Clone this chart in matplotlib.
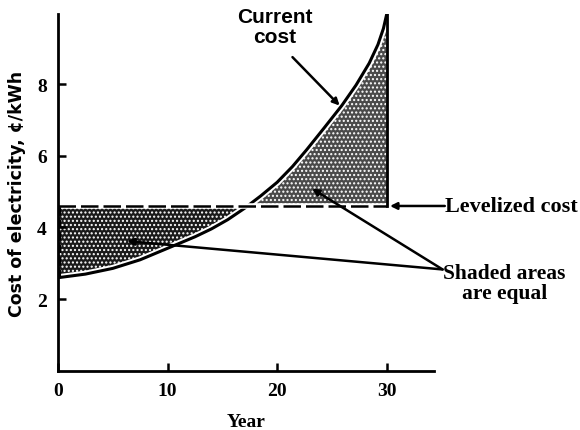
import matplotlib.pyplot as plt

# values
years = [0, 2.5, 5, 7.5, 10, 12.5, 14, 15.5, 17, 18.5, 20, 21.4, 22.7, 24.3, 25.9, 27.2, 28.4, 29.2, 29.7, 30]
current_cost = [2.6, 2.7, 2.86, 3.1, 3.42, 3.74, 3.96, 4.22, 4.53, 4.88, 5.26, 5.7, 6.17, 6.78,
                7.4, 7.97, 8.58, 9.1, 9.55, 9.95]
levelized_cost = 4.6
x_ticks = [0, 10, 20, 30]
y_ticks = [2, 4, 6, 8]

serif = "Liberation Serif"
sans = "Liberation Sans"

fig = plt.figure(figsize=(5.8, 4.31), dpi=100)
ax = fig.add_axes([0.1, 0.137, 0.648, 0.828])

lev = [levelized_cost] * len(years)

# shaded areas between the curve and the levelized line
ax.fill_between(years, current_cost, lev, where=[c <= levelized_cost + 0.05 for c in current_cost],
                interpolate=True, facecolor="#1a1a1a", edgecolor="white", hatch="....", linewidth=0)
ax.fill_between(years, current_cost, lev, where=[c >= levelized_cost - 0.05 for c in current_cost],
                interpolate=True, facecolor="#4a4a4a", edgecolor="white", hatch="....", linewidth=0)

# current cost curve with a thin white gap next to the shading
ax.plot(years, current_cost, color="white", lw=5, solid_capstyle="butt")
ax.plot(years, current_cost, color="black", lw=2.2)

# levelized cost line and closing vertical line
ax.plot([0, 30], [levelized_cost, levelized_cost], color="white", lw=4)
ax.plot([0, 30], [levelized_cost, levelized_cost], color="black", lw=1.8, dashes=(7, 2))
ax.plot([30, 30], [levelized_cost, current_cost[-1]], color="black", lw=2)
ax.plot([0.15, 0.15], [current_cost[0], levelized_cost], color="black", lw=1.5, dashes=(4, 2))

ax.set_xlim(0, 34.3)
ax.set_ylim(0, 9.95)
ax.set_xticks(x_ticks)
ax.set_yticks(y_ticks)
for s in ["top", "right"]:
    ax.spines[s].set_visible(False)
for s in ["left", "bottom"]:
    ax.spines[s].set_linewidth(2)
ax.tick_params(direction="in", length=6, width=1.8, pad=8)
for lab in ax.get_xticklabels() + ax.get_yticklabels():
    lab.set_fontfamily(serif)
    lab.set_fontweight("bold")
    lab.set_fontsize(14)

ax.set_xlabel("Year", fontfamily=serif, fontweight="bold", fontsize=14, labelpad=10)
ax.set_ylabel("Cost of electricity, \u00a2/kWh", fontfamily="DejaVu Sans", fontweight="bold",
              fontsize=12.5, labelpad=8)

# annotations
arrow = dict(arrowstyle="-|>", color="black", lw=1.8, mutation_scale=10, shrinkA=0, shrinkB=0)
ax.text(19.8, 10.15, "Current\ncost", fontfamily=sans, fontweight="bold", fontsize=15,
        ha="center", va="top", linespacing=1.05, clip_on=False)
ax.annotate("", xy=(25.7, 7.4), xytext=(21.4, 8.75), arrowprops=arrow, annotation_clip=False)

ax.annotate("", xy=(30.3, levelized_cost), xytext=(35.3, levelized_cost),
            arrowprops=arrow, annotation_clip=False)
ax.text(35.3, levelized_cost, "Levelized cost", fontfamily=serif, fontweight="bold",
        fontsize=16, ha="left", va="center", clip_on=False)

ax.annotate("", xy=(23.2, 5.08), xytext=(35.1, 2.83), arrowprops=arrow, annotation_clip=False)
ax.annotate("", xy=(6.3, 3.62), xytext=(35.1, 2.83), arrowprops=arrow, annotation_clip=False)
ax.text(40.75, 3.02, "Shaded areas\nare equal", fontfamily=serif, fontweight="bold",
        fontsize=15.5, ha="center", va="top", linespacing=1.0, clip_on=False)

fig.savefig("out.png", dpi=100)
